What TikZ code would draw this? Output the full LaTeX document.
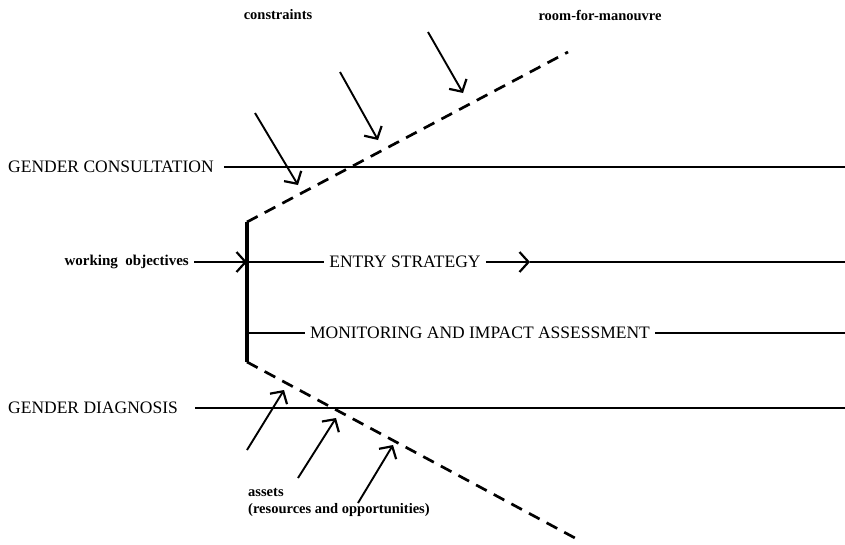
\documentclass[tikz,border=0pt]{standalone}
\usepackage{fontspec}
\setmainfont{Liberation Serif}
\usetikzlibrary{arrows.meta}
\begin{document}
\begin{tikzpicture}[x=1pt,y=-1pt,
  lab/.style={inner xsep=5pt, inner ysep=0pt, font=\fontsize{17.5}{20}\selectfont},
  small/.style={inner sep=0pt, font=\fontsize{14.5}{17}\selectfont\bfseries},
  thin/.style={line width=1.2pt},
  barb/.style={-{Straight Barb[length=9pt,width=20pt,line width=2.2pt]}},
  push/.style={line width=1.9pt, barb},
  frame/.style={line width=2.7pt, dash pattern=on 12pt off 8pt},
  spine/.style={line width=3.2pt}]
\useasboundingbox (0,0) rectangle (845,544);

% funnel: vertical spine with dashed edges
\coordinate (bartop) at (247,222);
\coordinate (barbot) at (247,362);
\coordinate (topend) at (568,52);
\coordinate (botend) at (575,538);
\draw[spine] (bartop) -- (barbot);
\draw[frame] (bartop) -- (topend);
\draw[frame] (barbot) -- (botend);

% top labels
\node[small] (con) at (278,15) {constraints};
\node[small] (room) at (600,15) {room-for-manouvre};

% gender consultation
\node[lab, anchor=west] (gc) at (3,167) {GENDER CONSULTATION};
\coordinate (gcR) at (845,167);
\draw[thin] ([xshift=5pt]gc.east) -- (gcR);

% working objectives and entry strategy
\node[lab, anchor=east] (wo) at (194,262) {\fontsize{15}{17}\selectfont\bfseries working\enspace objectives};
\coordinate (wobar) at (247,262);
\draw[thin, barb] (wo.east) -- (wobar);
\node[lab] (es) at (405,262) {ENTRY STRATEGY};
\draw[thin] (wobar) -- (es.west);
\coordinate (esTip) at (530,262);
\coordinate (esR) at (845,262);
\draw[thin, barb] (es.east) -- (esTip);
\draw[thin] (esTip) -- (esR);

% monitoring
\coordinate (mbar) at (247,333);
\coordinate (mR) at (845,333);
\node[lab] (mia) at (480,333) {MONITORING AND IMPACT ASSESSMENT};
\draw[thin] (mbar) -- (mia.west);
\draw[thin] (mia.east) -- (mR);

% gender diagnosis
\node[lab, anchor=west] (gd) at (3,408) {GENDER DIAGNOSIS};
\coordinate (gdR) at (845,408);
\draw[thin] ([xshift=12pt]gd.east) -- (gdR);

% constraints pressing down on the upper edge
\coordinate (c1s) at (255,113); \coordinate (c1e) at (298,185);
\coordinate (c2s) at (340,72);  \coordinate (c2e) at (378,140);
\coordinate (c3s) at (428,32);  \coordinate (c3e) at (463,93);
\draw[push] (c1s) -- (c1e);
\draw[push] (c2s) -- (c2e);
\draw[push] (c3s) -- (c3e);

% assets pushing up on the lower edge
\coordinate (a1s) at (247,450); \coordinate (a1e) at (284,390);
\coordinate (a2s) at (298,478); \coordinate (a2e) at (336,418);
\coordinate (a3s) at (358,503); \coordinate (a3e) at (393,445);
\draw[push] (a1s) -- (a1e);
\draw[push] (a2s) -- (a2e);
\draw[push] (a3s) -- (a3e);

\node[small, anchor=north west, align=left] (assets) at (248,488) {assets\\(resources and opportunities)};
\end{tikzpicture}
\end{document}
